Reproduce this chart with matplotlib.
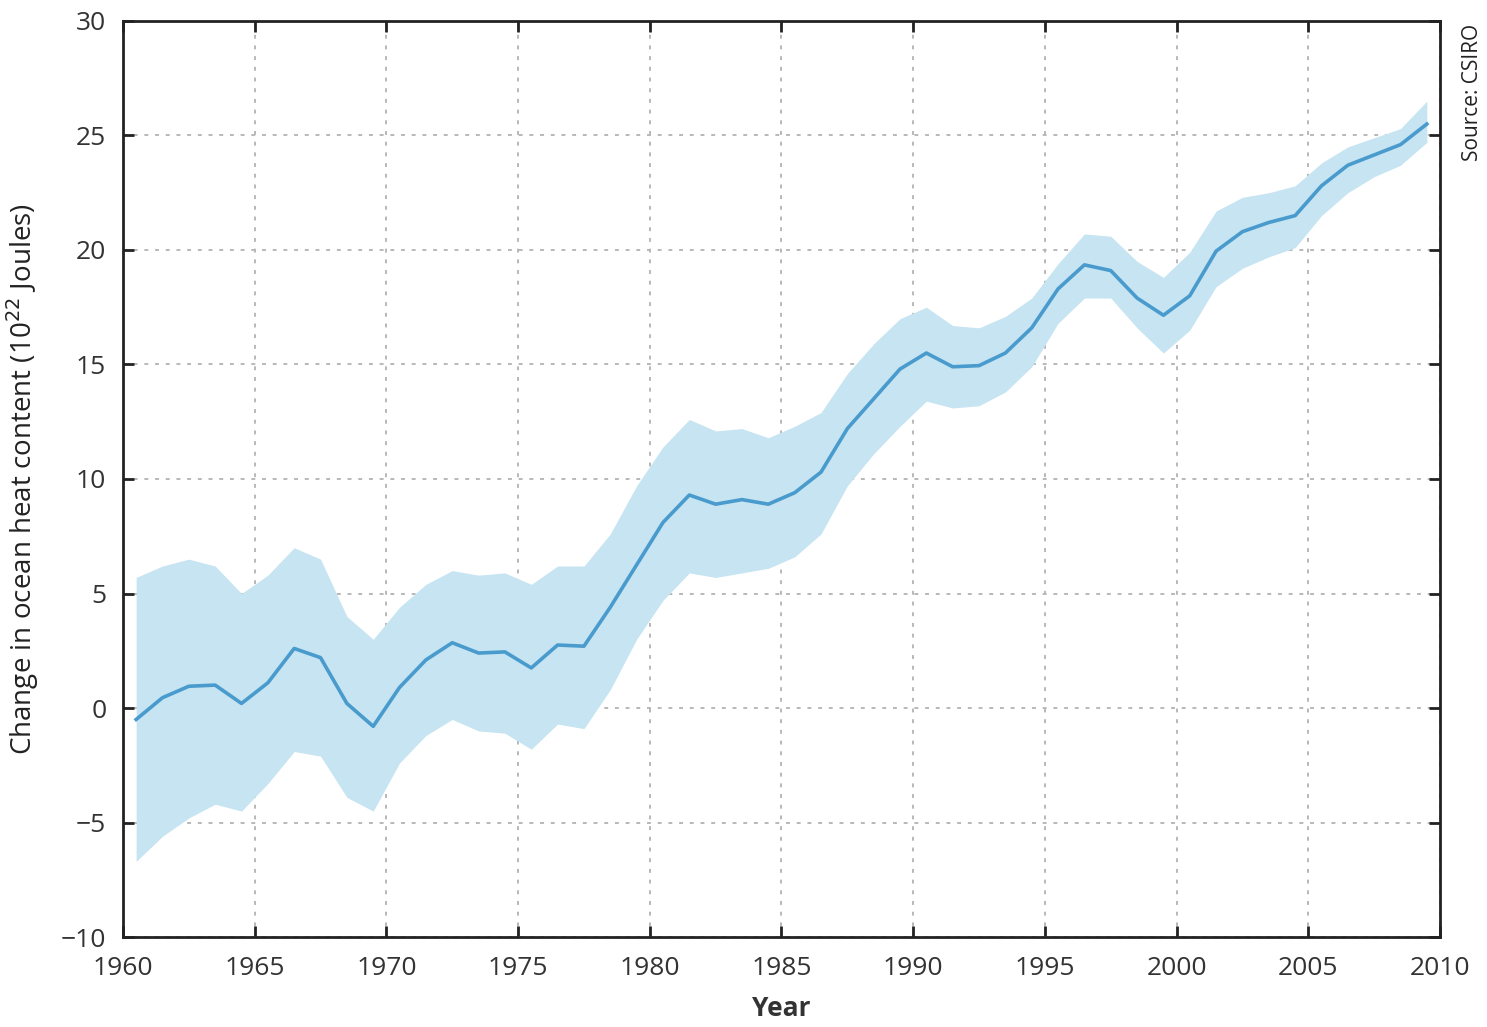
import numpy as np
import matplotlib
matplotlib.use("Agg")
import matplotlib.pyplot as plt

plt.rcParams['font.family'] = ['Open Sans', 'DejaVu Sans']

years = [1960.5 + i for i in range(50)]
heat = [-0.5, 0.45, 0.95, 1.0, 0.2, 1.1, 2.6, 2.2, 0.2, -0.8,
        0.9, 2.1, 2.85, 2.4, 2.45, 1.75, 2.75, 2.7, 4.4, 6.25,
        8.1, 9.3, 8.9, 9.1, 8.9, 9.4, 10.3, 12.2, 13.5, 14.8,
        15.5, 14.9, 14.95, 15.5, 16.6, 18.3, 19.35, 19.1, 17.9, 17.15,
        18.0, 19.95, 20.8, 21.2, 21.5, 22.8, 23.7, 24.15, 24.6, 25.5]
upper = [5.7, 6.2, 6.5, 6.2, 5.0, 5.8, 7.0, 6.5, 4.0, 3.0,
         4.4, 5.4, 6.0, 5.8, 5.9, 5.4, 6.2, 6.2, 7.6, 9.7,
         11.4, 12.6, 12.1, 12.2, 11.8, 12.3, 12.9, 14.6, 15.9, 17.0,
         17.5, 16.7, 16.6, 17.1, 17.9, 19.4, 20.7, 20.6, 19.5, 18.8,
         19.9, 21.7, 22.3, 22.5, 22.8, 23.8, 24.5, 24.9, 25.3, 26.5]
lower = [-6.7, -5.6, -4.8, -4.2, -4.5, -3.3, -1.9, -2.1, -3.9, -4.5,
         -2.4, -1.2, -0.5, -1.0, -1.1, -1.8, -0.7, -0.9, 0.8, 3.0,
         4.7, 5.9, 5.7, 5.9, 6.1, 6.6, 7.6, 9.7, 11.1, 12.3,
         13.4, 13.1, 13.2, 13.8, 14.9, 16.8, 17.9, 17.9, 16.6, 15.5,
         16.5, 18.4, 19.2, 19.7, 20.1, 21.5, 22.5, 23.2, 23.7, 24.7]
xticks = [1960, 1965, 1970, 1975, 1980, 1985, 1990, 1995, 2000, 2005, 2010]
yticks = [-10, -5, 0, 5, 10, 15, 20, 25, 30]

fig = plt.figure(figsize=(14.87, 10.27), dpi=100)
ax = fig.add_axes([0.0827, 0.0876, 0.8857, 0.892])

ax.fill_between(years, lower, upper, color='#c6e4f1', linewidth=0, zorder=2)
ax.plot(years, heat, color='#4a9bcd', linewidth=2.6, zorder=3)

ax.set_xlim(1960, 2010)
ax.set_ylim(-10, 30)
ax.set_xticks(xticks)
ax.set_yticks(yticks)
ax.set_yticklabels([str(v).replace('-', '\u2212') for v in yticks])
ax.grid(True, color='#b8b8b8', linestyle=(0, (2, 3.5)), linewidth=1.4, zorder=1)
ax.set_axisbelow(True)

ax.tick_params(direction='in', length=8, width=2, labelsize=19, color='#222222',
               labelcolor='#333333', top=True, right=True)
ax.tick_params(axis='x', pad=14)
ax.tick_params(axis='y', pad=12)
for s in ax.spines.values():
    s.set_linewidth(2)
    s.set_color('#222222')

ax.set_xlabel('Year', fontsize=19, fontweight='bold', color='#333333', labelpad=10)
ax.set_ylabel('Change in ocean heat content (10$^{22}$ Joules)', fontsize=20,
              color='#222222', labelpad=14)

fig.text(0.99, 0.977, 'Source: CSIRO', rotation=90, ha='center', va='top',
         fontsize=15, color='#222222')

fig.savefig('out.png', dpi=100)
